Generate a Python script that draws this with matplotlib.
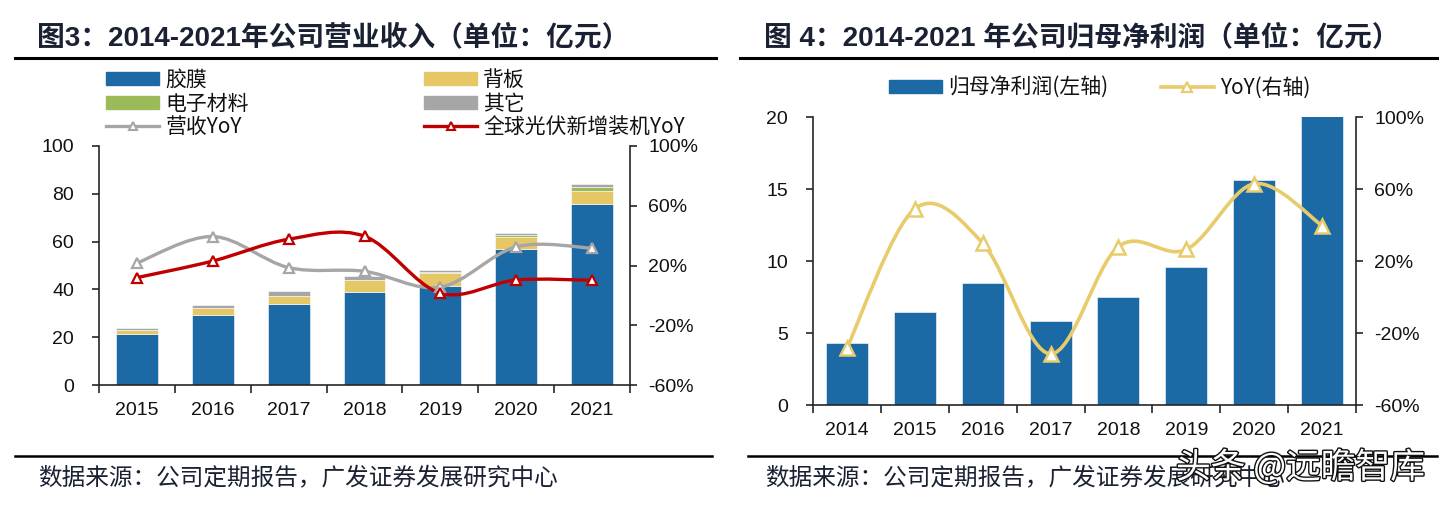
import matplotlib
matplotlib.use("Agg")
import matplotlib.pyplot as plt
from matplotlib.path import Path
from matplotlib.patches import PathPatch, Patch
from matplotlib.lines import Line2D
import matplotlib.patheffects as pe
import numpy as np

plt.rcParams['font.family'] = ['Liberation Sans', 'Noto Sans CJK SC', 'DejaVu Sans']

# ---------------- data: chart 3 ----------------
years3 = ['2015', '2016', '2017', '2018', '2019', '2020', '2021']
film = [21.2, 29.3, 34.0, 38.8, 41.5, 57.0, 75.6]
backsheet = [2.0, 3.0, 3.2, 5.3, 5.2, 5.1, 5.5]
electronic = [0.0, 0.0, 0.0, 0.0, 0.6, 0.5, 1.8]
other = [0.7, 1.0, 2.2, 1.7, 0.8, 1.2, 1.0]
rev_yoy = [21.7, 39.4, 18.6, 16.1, 5.5, 32.5, 31.6]
pv_yoy = [11.9, 23.0, 37.6, 39.6, 1.5, 10.3, 10.1]

# ---------------- data: chart 4 ----------------
years4 = ['2014', '2015', '2016', '2017', '2018', '2019', '2020', '2021']
profit = [4.29, 6.44, 8.44, 5.82, 7.49, 9.57, 15.64, 21.9]
profit_yoy = [-28.3, 49.0, 29.9, -31.6, 28.0, 26.4, 62.9, 39.7]

BLUE = '#1B6AA5'
YELLOW = '#E6C766'
GREEN = '#9BBB59'
GRAY = '#A6A6A6'
RED = '#C00000'
LYELLOW = '#E8CC6C'
SPINE = '#262626'
TXT = '#111111'
TITLE = '#1A2133'

W, H = 1450, 505
fig = plt.figure(figsize=(W / 100, H / 100), dpi=100)


def fx(px):
    return px / W


def fy(py):
    return 1 - py / H


def smooth_path(ax, xs, ys, color, lw, zorder=3):
    pts = np.column_stack([xs, ys]).astype(float)
    n = len(pts)
    verts = [pts[0]]
    codes = [Path.MOVETO]
    for i in range(n - 1):
        p0 = pts[i - 1] if i > 0 else pts[i]
        p1 = pts[i]
        p2 = pts[i + 1]
        p3 = pts[i + 2] if i + 2 < n else pts[i + 1]
        c1 = p1 + (p2 - p0) / 6.0
        c2 = p2 - (p3 - p1) / 6.0
        verts += [c1, c2, p2]
        codes += [Path.CURVE4] * 3
    patch = PathPatch(Path(verts, codes), fill=False, edgecolor=color, lw=lw,
                      transform=ax.transData, zorder=zorder, capstyle='round',
                      joinstyle='round')
    ax.add_patch(patch)


def style_axes(ax, axr, n, tick_fs):
    for s in ['top', 'right']:
        ax.spines[s].set_visible(False)
    for s in ['left', 'bottom']:
        ax.spines[s].set_color(SPINE)
        ax.spines[s].set_linewidth(1.2)
    for s in ['top', 'left', 'bottom']:
        axr.spines[s].set_visible(False)
    axr.spines['right'].set_color(SPINE)
    axr.spines['right'].set_linewidth(1.2)
    ax.set_xlim(-0.5, n - 0.5)
    ax.set_xticks(np.arange(n))
    ax.set_xticks(np.arange(n + 1) - 0.5, minor=True)
    ax.tick_params(axis='x', which='major', length=0, pad=12, labelsize=tick_fs, colors=TXT)
    ax.tick_params(axis='x', which='minor', length=6, width=1.2, color=SPINE, direction='out')
    ax.tick_params(axis='y', length=5, width=1.2, color=SPINE, labelsize=tick_fs, pad=13, labelcolor=TXT)
    axr.tick_params(axis='y', length=5, width=1.2, color=SPINE, labelsize=tick_fs, pad=8, labelcolor=TXT)


# ================= chart 3 =================
ax1 = fig.add_axes([fx(99), fy(385), fx(630) - fx(99), fy(146) - fy(385)])
x3 = np.arange(len(years3))
bw = 0.55
b0 = np.zeros(len(years3))
for vals, col in [(film, BLUE), (backsheet, YELLOW), (electronic, GREEN), (other, GRAY)]:
    ax1.bar(x3, vals, bw, bottom=b0, color=col, edgecolor='white', linewidth=0.4, zorder=2)
    b0 = b0 + np.array(vals)
ax1.set_ylim(0, 100)
ax1.set_yticks(np.arange(0, 101, 20))
ax1.set_xticklabels(years3)
ax1r = ax1.twinx()
ax1r.set_ylim(-60, 100)
ax1r.set_yticks(np.arange(-60, 101, 40))
ax1r.set_yticklabels([f'{v}%' for v in range(-60, 101, 40)])
style_axes(ax1, ax1r, len(years3), 14)
smooth_path(ax1r, x3, rev_yoy, GRAY, 2.4)
smooth_path(ax1r, x3, pv_yoy, RED, 2.4)
ax1r.plot(x3, rev_yoy, ls='none', marker='^', ms=7, mfc='white', mec=GRAY, mew=1.6, zorder=4)
ax1r.plot(x3, pv_yoy, ls='none', marker='^', ms=7, mfc='white', mec=RED, mew=1.6, zorder=4)

lfs = 15
h_film = Patch(color=BLUE)
h_back = Patch(color=YELLOW)
h_elec = Patch(color=GREEN)
h_oth = Patch(color=GRAY)
h_rev = Line2D([], [], color=GRAY, lw=2.4, marker='^', ms=6, mfc='white', mec=GRAY, mew=1.5)
h_pv = Line2D([], [], color=RED, lw=2.4, marker='^', ms=6, mfc='white', mec=RED, mew=1.5)
leg_kw = dict(frameon=False, handlelength=2.55, handleheight=0.6,
              handletextpad=0.3, labelspacing=0.08, borderpad=0, borderaxespad=0,
              loc='upper left', prop={'family': ['Noto Sans CJK SC', 'DejaVu Sans'], 'size': lfs})
lg1 = fig.legend([h_film, h_elec, h_rev], ['胶膜', '电子材料', '营收YoY'],
                 bbox_to_anchor=(fx(106), fy(69)), **leg_kw)
lg2 = fig.legend([h_back, h_oth, h_pv], ['背板', '其它', '全球光伏新增装机YoY'],
                 bbox_to_anchor=(fx(424), fy(69)), **leg_kw)
for lg in (lg1, lg2):
    for t in lg.get_texts():
        t.set_color(TXT)

# ================= chart 4 =================
ax2 = fig.add_axes([fx(813), fy(405), fx(1356) - fx(813), fy(117) - fy(405)])
x4 = np.arange(len(years4))
ax2.bar(x4, profit, 0.62, color=BLUE, edgecolor='white', linewidth=0.4, zorder=2)
ax2.set_ylim(0, 20)
ax2.set_yticks(np.arange(0, 21, 5))
ax2.set_xticklabels(years4)
ax2r = ax2.twinx()
ax2r.set_ylim(-60, 100)
ax2r.set_yticks(np.arange(-60, 101, 40))
ax2r.set_yticklabels([f'{v}%' for v in range(-60, 101, 40)])
style_axes(ax2, ax2r, len(years4), 14)
smooth_path(ax2r, x4, profit_yoy, LYELLOW, 2.6)
ax2r.plot(x4, profit_yoy, ls='none', marker='^', ms=10, mfc='white', mec=LYELLOW, mew=1.8, zorder=4)

h_p = Patch(color=BLUE)
h_y = Line2D([], [], color=LYELLOW, lw=2.6, marker='^', ms=7, mfc='white', mec=LYELLOW, mew=1.6)
lg3 = fig.legend([h_p, h_y], ['归母净利润(左轴)', 'YoY(右轴)'], ncol=2,
                 bbox_to_anchor=(fx(889), fy(77)), columnspacing=2.5, **leg_kw)
for t in lg3.get_texts():
    t.set_color(TXT)

# ================= titles / rules / source =================
tfam = ['Liberation Sans', 'Noto Sans CJK SC', 'DejaVu Sans']
fig.text(fx(37), fy(38), '图3：2014-2021年公司营业收入（单位：亿元）', fontsize=20,
         fontweight='bold', color=TITLE, va='center', ha='left', family=tfam)
fig.text(fx(764), fy(38), '图 4：2014-2021 年公司归母净利润（单位：亿元）', fontsize=20,
         fontweight='bold', color=TITLE, va='center', ha='left', family=tfam)

for (x0, x1) in [(15, 716), (740, 1437)]:
    fig.add_artist(Line2D([fx(x0), fx(x1)], [fy(58), fy(58)], color='black', lw=2.2))
for (x0, x1) in [(15, 712), (748, 1437)]:
    fig.add_artist(Line2D([fx(x0), fx(x1)], [fy(456), fy(456)], color='black', lw=1.8))

sfam = ['Noto Sans CJK SC', 'DejaVu Sans']
fig.text(fx(38), fy(479), '数据来源：公司定期报告，广发证券发展研究中心', fontsize=17,
         color=TITLE, va='center', ha='left', family=sfam)
fig.text(fx(765), fy(479), '数据来源：公司定期报告，广发证券发展研究中心', fontsize=17,
         color=TITLE, va='center', ha='left', family=sfam)

wm = fig.text(fx(1176), fy(468), '头条 @远瞻智库', fontsize=25, color='white',
              va='center', ha='left', family=sfam)
wm.set_path_effects([pe.Stroke(linewidth=2.0, foreground='#111111'), pe.Normal()])

fig.savefig('out.png', dpi=100)
